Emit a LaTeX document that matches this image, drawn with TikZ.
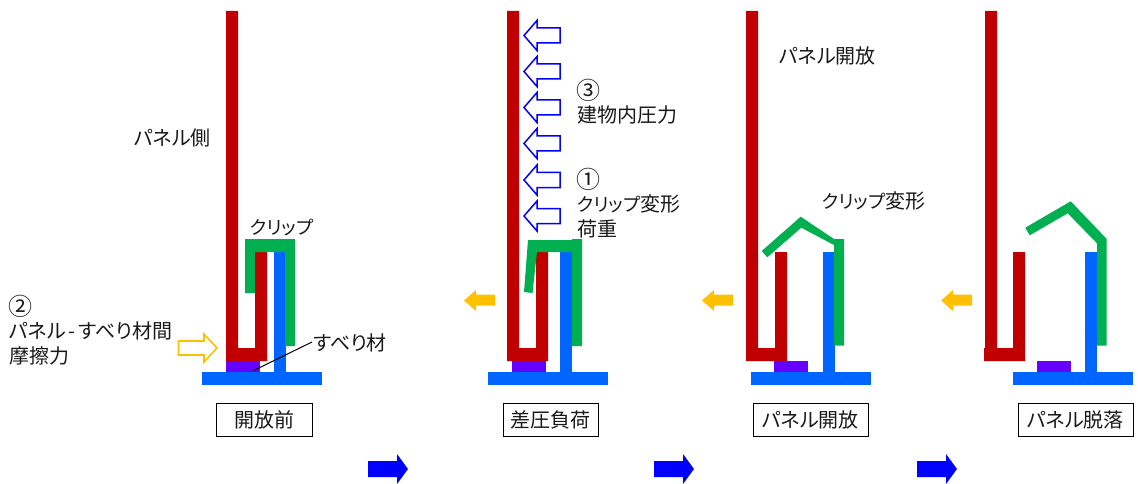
\documentclass[tikz,border=0pt]{standalone}
\usepackage{fontspec}
\newfontfamily\jp{Noto Sans CJK JP}[RawFeature=+palt]
\definecolor{panelred}{HTML}{C00000}
\definecolor{frameblue}{HTML}{0066FF}
\definecolor{clipgreen}{HTML}{00B050}
\definecolor{slidepurple}{HTML}{6600FF}
\definecolor{forceyellow}{HTML}{FFC000}
\definecolor{flowblue}{HTML}{0000FF}
\newcommand{\cnum}[1]{\raisebox{-2.5pt}[0pt][0pt]{\fontsize{24}{25.5}\selectfont\hspace*{-1pt}#1}}
\newcommand{\kata}[1]{{\fontsize{18.5}{25.5}\selectfont #1}}
\tikzset{
  x=1pt,y=-1pt,
  panelfill/.style={fill=panelred,draw=none},
  framefill/.style={fill=frameblue,draw=none},
  clipfill/.style={fill=clipgreen,draw=none},
  slidefill/.style={fill=slidepurple,draw=none},
  lbl/.style={font=\jp\fontsize{20}{25.5}\selectfont,inner sep=0pt,anchor=west,align=left,text=black!90},
  stagebox/.style={draw=black,line width=1pt,fill=white,font=\jp\fontsize{20}{24}\selectfont,inner sep=0pt,text=black!90},
  hollowblue/.style={draw=flowblue,line width=1.5pt,fill=white,miter limit=10},
  hollowyellow/.style={draw=forceyellow,line width=1.6pt,fill=white},
}
\newcommand{\panelshape}[2]{%
  \fill[panelfill] (#1,11) -- (#1+12,11) -- (#1+12,348) -- (#2+29,348) -- (#2+29,252) -- (#2+41,252) -- (#2+41,361) -- (#2,361) -- (#2,348) -- (#1,348) -- cycle;}
\newcommand{\frameshape}[1]{%
  \fill[framefill] (#1,372) rectangle (#1+120,385);
  \fill[framefill] (#1+72,252) rectangle (#1+84,372);}
\newcommand{\slideshape}[1]{\fill[slidefill] (#1,361) rectangle (#1+34,372);}
\newcommand{\hollowleft}[1]{%
  \draw[hollowblue] (524,#1+15) -- (537,#1) -- (537,#1+7.5) -- (560,#1+7.5) -- (560,#1+22.5) -- (537,#1+22.5) -- (537,#1+30) -- cycle;}
\newcommand{\yellowleft}[1]{%
  \fill[forceyellow] (#1,300.5) -- (#1+12,290) -- (#1+12,294.5) -- (#1+31,294.5) -- (#1+31,305.5) -- (#1+12,305.5) -- (#1+12,311) -- cycle;}
\newcommand{\flowright}[1]{%
  \fill[flowblue] (#1,461) -- (#1+29,461) -- (#1+29,454) -- (#1+40,469) -- (#1+29,484) -- (#1+29,477) -- (#1,477) -- cycle;}
\begin{document}
\begin{tikzpicture}
\useasboundingbox (0,0) rectangle (1138,484);
% ---- stage 1
\slideshape{226}
\frameshape{202}
\panelshape{226}{226}
\fill[clipfill] (245,239) -- (295,239) -- (295,346) -- (285,346) -- (285,252) -- (255,252) -- (255,293) -- (245,293) -- cycle;
\draw[hollowyellow] (217,348) -- (204,334) -- (204,341) -- (178.5,341) -- (178.5,355) -- (204,355) -- (204,362) -- cycle;
% ---- stage 2
\slideshape{512}
\frameshape{488}
\panelshape{507}{507}
\fill[clipfill] (528,240) -- (572,240) -- (572,239) -- (582,239) -- (582,346) -- (572,346) -- (572,252) -- (537,252) -- (532.5,293) -- (524,292) -- cycle;
\hollowleft{20.5}\hollowleft{56.5}\hollowleft{92.5}\hollowleft{128.5}\hollowleft{165}\hollowleft{201}
\yellowleft{464}
% ---- stage 3
\slideshape{774}
\frameshape{751}
\panelshape{746}{746}
\fill[clipfill] (761.7,251) -- (800.7,216.7) -- (834,239) -- (844,239) -- (844,345.7) -- (834,345.7) -- (834,245) -- (801.3,227.7) -- (767.3,257.3) -- cycle;
\yellowleft{702}
% ---- stage 4
\slideshape{1037}
\frameshape{1013}
\panelshape{985}{984}
\fill[clipfill] (1025.3,227.7) -- (1070.7,201.3) -- (1106.7,239) -- (1106.7,345.7) -- (1097,345.7) -- (1097,243.3) -- (1067.7,213.3) -- (1029.7,235.3) -- cycle;
\yellowleft{941}
% ---- flow arrows
\flowright{368}\flowright{654}\flowright{917}
% ---- stage boxes
\node[stagebox,minimum width=95.5pt,minimum height=33.5pt] (s1) at (264.3,420.2) {開放前};
\node[stagebox,minimum width=95.5pt,minimum height=33.5pt] (s2) at (550.8,420.2) {差圧負荷};
\node[stagebox,minimum width=115pt,minimum height=33.5pt] (s3) at (810.5,420.2) {パネル開放};
\node[stagebox,minimum width=115pt,minimum height=33.5pt] (s4) at (1075.5,420.2) {パネル脱落};
% ---- labels
\node[lbl] (t1) at (134,138) {パネル側};
\node[lbl] (t2) at (250,228) {\kata{クリップ}};
\node[lbl] (t3) at (9,339) {\cnum{②}\\パネル\hspace{3pt}-\hspace{3pt}すべり材間\\摩擦力};
\node[lbl] (t4) at (313,343) {すべり材};
\node[lbl] (t5) at (577,110.5) {\cnum{③}\\建物内圧力};
\node[lbl] (t6) at (577,212) {\cnum{①}\\\kata{クリップ}変形\\荷重};
\node[lbl] (t7) at (779,56) {パネル開放};
\node[lbl] (t8) at (822,201) {\kata{クリップ}変形};
% ---- leader
\coordinate (slideend) at (253.3,370.7);
\draw[line width=1pt,black] (t4.west) ++(-1,-1) -- (slideend);
\end{tikzpicture}
\end{document}
